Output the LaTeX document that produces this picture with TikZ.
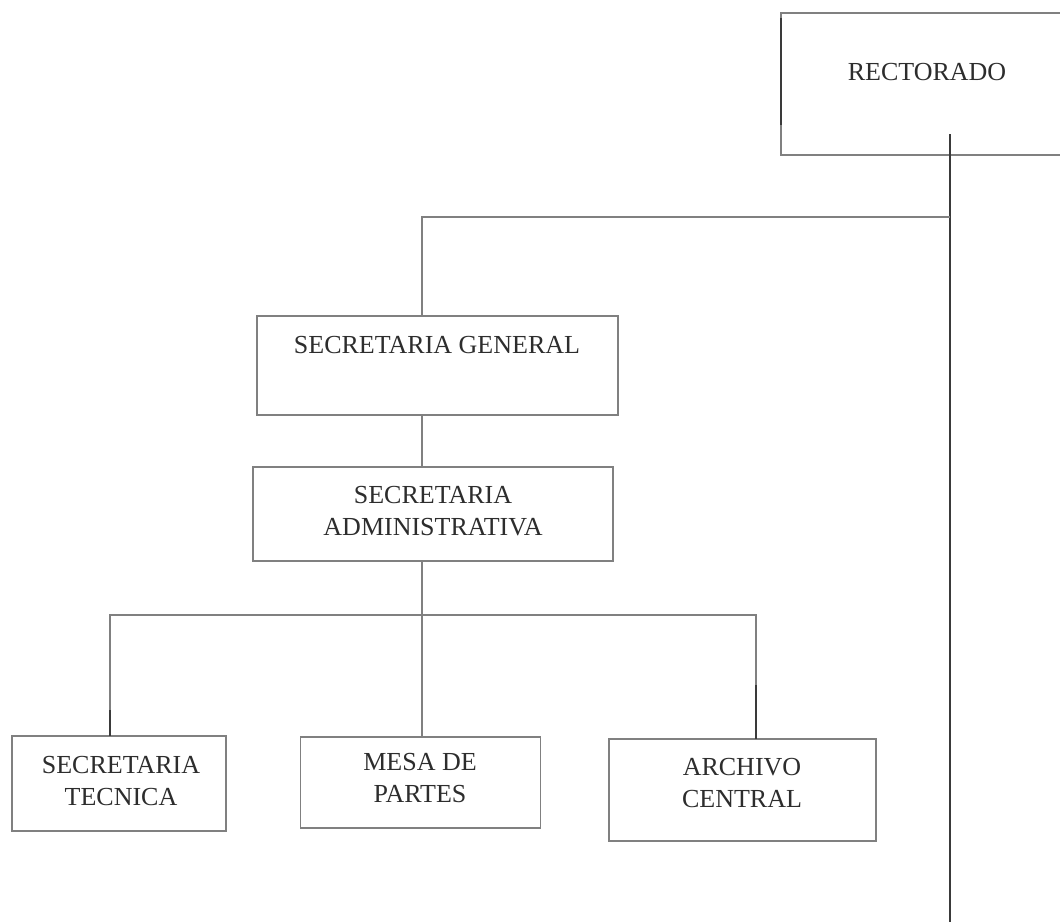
\documentclass[tikz,border=0pt]{standalone}
\usepackage{fontspec}
\setmainfont{Liberation Serif}
\usetikzlibrary{calc}
\definecolor{rule}{RGB}{128,128,128}
\definecolor{ink}{RGB}{58,58,58}
\definecolor{type}{RGB}{45,45,45}
\begin{document}
\begin{tikzpicture}[x=1pt,y=-1pt,
  unit/.style={draw=rule,line width=1.7pt,inner sep=0pt,outer sep=0pt},
  caption/.style={text=type,align=center,inner sep=0pt,
    font=\fontsize{26}{32}\selectfont},
  link/.style={draw=rule,line width=1.6pt},
  dark/.style={draw=ink,line width=2.4pt},
  spine/.style={draw=ink,line width=2.2pt}]
\useasboundingbox (0,0) rectangle (1060,922);
\clip (0,0) rectangle (1060,922);
\fill[white] (0,0) rectangle (1060,922);

% boxes
\node[unit,minimum width=292pt,minimum height=142pt] (rect) at (927,84) {};
\node[unit,minimum width=361pt,minimum height=99pt]  (sg)   at (437.5,365.5) {};
\node[unit,minimum width=360pt,minimum height=94pt]  (sa)   at (433,514) {};
\node[unit,minimum width=214pt,minimum height=95pt]  (st)   at (119,783.5) {};
\node[unit,minimum width=240pt,minimum height=91pt]  (mp)   at (420.5,782.5) {};
\node[unit,minimum width=267pt,minimum height=102pt] (ac)   at (742.5,790) {};

% texts
\node[caption] (rect-t) at (927,72)  {RECTORADO};
\node[caption] (sg-t)   at (437,345) {SECRETARIA GENERAL};
\node[caption] (sa-t)   at (433,511) {SECRETARIA\\ADMINISTRATIVA};
\node[caption] (st-t)   at (121,781) {SECRETARIA\\TECNICA};
\node[caption] (mp-t)   at (420,778) {MESA DE\\PARTES};
\node[caption] (ac-t)   at (742,783) {ARCHIVO\\CENTRAL};

% darker stroke on the left edge of the top box
\draw[dark] ($(rect.north west)+(0,5)$) -- ($(rect.north west)+(0,112)$);

% main vertical line from the rectorate
\coordinate (top) at (950,134);
\coordinate (bot) at (950,922);
\draw[spine] (top) -- (bot);

% branch to the general secretariat
\coordinate (j1) at (950,217);
\coordinate (c1) at (422,217);
\draw[link] (j1) -- (c1) -- (c1 |- sg.north);
\draw[link] (c1 |- sg.south) -- (c1 |- sa.north);

% bus to the three offices
\coordinate (bus) at (422,615);
\coordinate (bl) at (110,615);
\coordinate (br) at (756,615);
\draw[link] (c1 |- sa.south) -- (bus);
\draw[link] (bl |- st.north) -- (bl) -- (br) -- (br |- ac.north);
\draw[link] (bus) -- (bus |- mp.north);
\draw[dark] ($(bl |- st.north)+(0,-26)$) -- (bl |- st.north);
\draw[dark] ($(br |- ac.north)+(0,-54)$) -- (br |- ac.north);
\end{tikzpicture}
\end{document}
